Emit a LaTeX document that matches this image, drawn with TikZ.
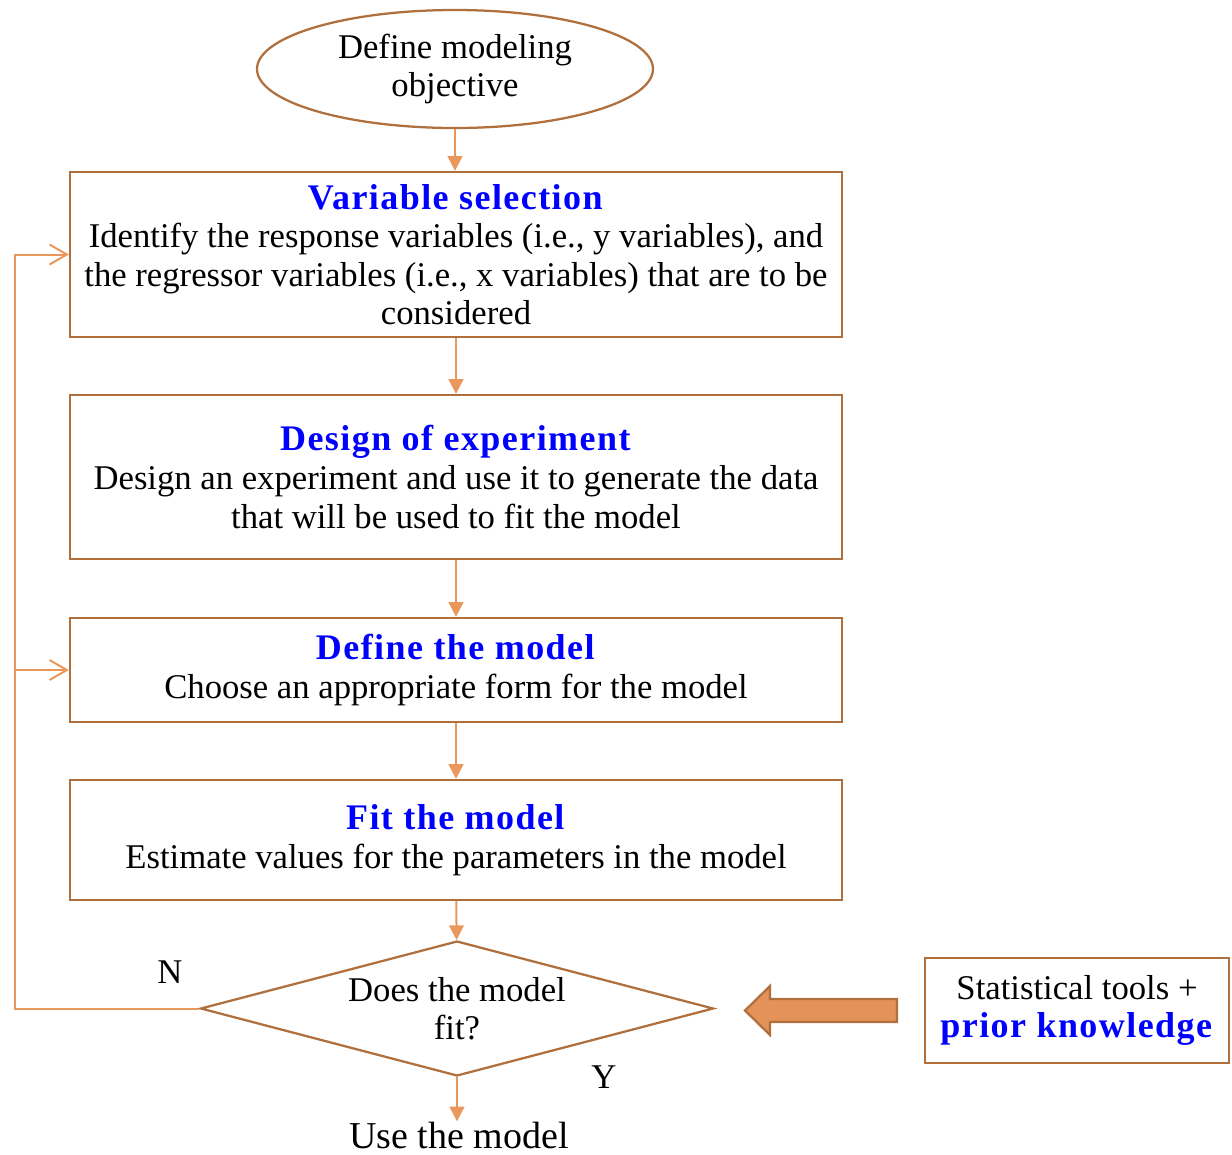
\documentclass[tikz,border=0pt]{standalone}
\usepackage{fontspec}
\setmainfont{Liberation Serif}
\usetikzlibrary{shapes.geometric,arrows.meta}

\definecolor{boxbrown}{RGB}{176,112,62}
\definecolor{linkorange}{RGB}{233,151,91}
\definecolor{arrowfill}{RGB}{227,146,90}
\definecolor{titleblue}{RGB}{0,0,255}
\newcommand{\steptitle}[1]{{\fontsize{27}{28.9}\selectfont\addfontfeature{LetterSpace=4}\textcolor{titleblue}{\textbf{#1}}}}

\tikzset{every picture/.style={line width=0.75pt}}
\tikzset{
  stepbox/.style={draw=boxbrown, line width=1.7pt, rectangle, minimum width=579pt, inner sep=0pt, align=center, font=\fontsize{26}{28.9}\selectfont},
  link/.style={draw=linkorange, line width=1.5pt, -{Triangle[length=11pt,width=11pt]}},
  back/.style={draw=linkorange, line width=1.5pt, -{Straight Barb[length=13pt,width=15pt]}},
  plain/.style={inner sep=0pt, align=center, font=\fontsize{26}{28.9}\selectfont},
}

\begin{document}
\begin{tikzpicture}[x=0.75pt,y=0.75pt,yscale=-1,xscale=1]
\useasboundingbox (0,0) rectangle (1232,1154);

% Shapes
\node [ellipse, draw=boxbrown, line width=1.7pt, minimum width=297pt, minimum height=88.5pt, plain] (obj) at (455,69) {Define modeling\\objective};
\node [stepbox, minimum height=123.75pt] (varsel) at (456,254.5) {\steptitle{Variable selection}\\Identify the response variables (i.e., y variables), and\\the regressor variables (i.e., x variables) that are to be\\considered};
\node [stepbox, minimum height=123pt] (doe) at (456,477) {\steptitle{Design of experiment}\\Design an experiment and use it to generate the data\\that will be used to fit the model};
\node [stepbox, minimum height=78pt] (defmod) at (456,670) {\steptitle{Define the model}\\Choose an appropriate form for the model};
\node [stepbox, minimum height=90pt] (fitmod) at (456,840) {\steptitle{Fit the model}\\Estimate values for the parameters in the model};
\node [diamond, draw=boxbrown, line width=1.7pt, aspect=3.8, minimum width=384.75pt, minimum height=101.25pt, plain] (fitq) at (457,1008.5) {Does the model\\fit?};
\node [stepbox, minimum width=228pt, minimum height=78.75pt] (tools) at (1077,1010.5) {Statistical tools +\\\steptitle{prior knowledge}};

% Text Node
\node [inner sep=0pt, text depth=0pt, font=\fontsize{28.5}{30}\selectfont] (use) at (459,1135) {Use the model};
% Text Node
\node [plain] (no) at (170,972) {N};
% Text Node
\node [plain] (yes) at (604,1077) {Y};

%Straight Lines
\draw [link] (obj.south) -- (obj.south |- varsel.north);
\draw [link] (varsel) -- (doe);
\draw [link] (doe) -- (defmod);
\draw [link] (defmod) -- (fitmod);
\draw [link] (fitmod) -- (fitq);
\draw [link] (fitq.south) -- (use.north -| fitq.south);

%Feedback
\coordinate (loop) at (15,1008.5);
\draw [back] (fitq.west) -- (loop) |- (varsel.west);
\draw [back] (loop |- defmod.west) -- (defmod.west);

%Block arrow
\draw [draw=boxbrown, fill=arrowfill, line width=1.7pt, line join=miter] (897,999) -- (770,999) -- (770,986) -- (745,1010.5) -- (770,1035) -- (770,1022) -- (897,1022) -- cycle;

\end{tikzpicture}
\end{document}
